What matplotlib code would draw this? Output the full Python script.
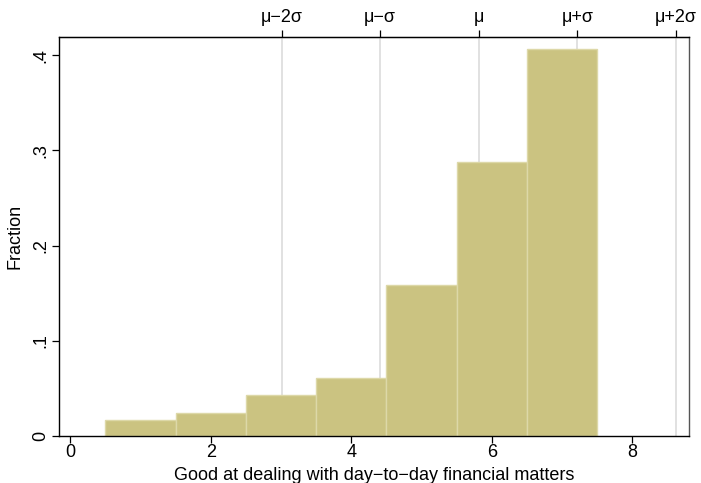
import numpy as np
import matplotlib.pyplot as plt

plt.rcParams['font.family'] = ['Liberation Sans', 'DejaVu Sans']

# histogram bins (score 1..7) and share of respondents in each
scores = [1, 2, 3, 4, 5, 6, 7]
fractions = [0.0171, 0.0238, 0.0427, 0.0610, 0.1590, 0.2880, 0.4066]

x_ticks = [0, 2, 4, 6, 8]
y_ticks = [0, 0.1, 0.2, 0.3, 0.4]
y_labels = ["0", ".1", ".2", ".3", ".4"]
sd_labels = ["\u03bc\u22122\u03c3", "\u03bc\u2212\u03c3", "\u03bc", "\u03bc+\u03c3", "\u03bc+2\u03c3"]

# mean and sd of the distribution
s = np.array(scores, dtype=float)
p = np.array(fractions)
p = p / p.sum()
mu = (s * p).sum()
sigma = np.sqrt(((s - mu) ** 2 * p).sum())
sd_pos = [mu + k * sigma for k in (-2, -1, 0, 1, 2)]

fs = 13

fig = plt.figure(figsize=(7.01, 4.83), dpi=100)
ax = fig.add_axes([0.0842, 0.0973, 0.8988, 0.8257])

for xv in sd_pos:
    ax.axvline(xv, color="#dcdcdc", lw=1.2, zorder=1)

ax.bar(scores, fractions, width=1.0, color="#cbc381", edgecolor="#ddd8a8",
       linewidth=1.0, zorder=2)

ax.set_xlim(-0.16, 8.81)
ax.set_ylim(0, 0.419)

ax.set_xticks(x_ticks)
ax.set_xticklabels([str(t) for t in x_ticks], fontsize=fs)
ax.set_yticks(y_ticks)
ax.set_yticklabels(y_labels, fontsize=fs, rotation=90, va="center")
ax.tick_params(axis="both", direction="out", length=5, width=0.9, color="black")
ax.tick_params(axis="x", pad=1)
ax.tick_params(axis="y", pad=2)

ax.set_xlabel("Good at dealing with day\u2212to\u2212day financial matters",
              fontsize=fs, labelpad=4)
ax.set_ylabel("Fraction", fontsize=fs, labelpad=6)

for sp in ax.spines.values():
    sp.set_linewidth(1.0)
    sp.set_color("black")
ax.spines["right"].set_color("#555555")

top = ax.secondary_xaxis("top")
top.set_xticks(sd_pos)
top.set_xticklabels(sd_labels, fontsize=fs)
top.tick_params(direction="out", length=5, width=0.9, pad=3)

fig.savefig("out.png", dpi=100)
